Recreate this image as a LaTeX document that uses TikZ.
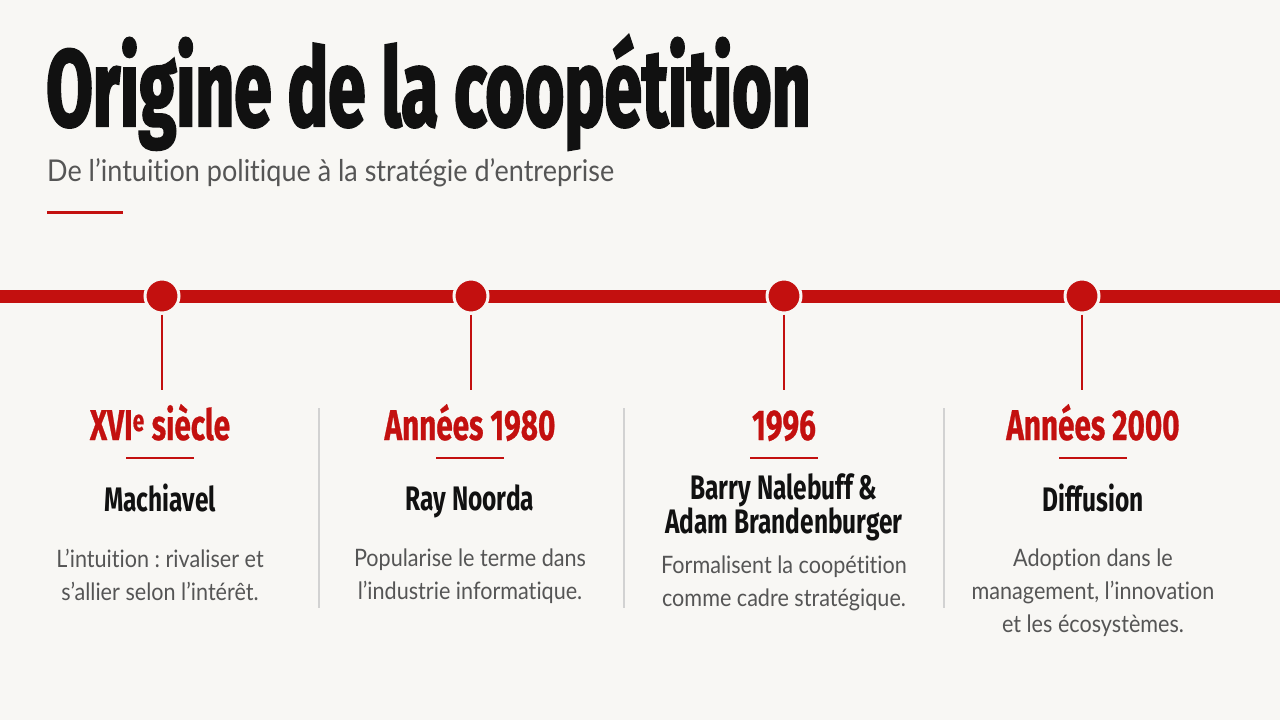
\documentclass[tikz,border=0pt]{standalone}
\usepackage{fontspec}
\setmainfont{Lato}
\newfontfamily\titlefont{Fira Sans}[FakeStretch=0.62, FakeBold=2]
\newfontfamily\yearfont{Fira Sans}[FakeStretch=0.69, FakeBold=0.6]
\newfontfamily\condfont{Fira Sans}[FakeStretch=0.72]
\newfontfamily\descfont{Lato}[FakeStretch=0.9, Ligatures=NoCommon]
\frenchspacing

\definecolor{paper}{HTML}{F8F7F4}
\definecolor{tlred}{HTML}{C3100F}
\definecolor{ink}{HTML}{111111}
\definecolor{muted}{HTML}{555555}
\definecolor{sepgray}{HTML}{D2D2D2}

\tikzset{
  dot/.style={circle, fill=tlred, draw=paper, line width=3pt, minimum size=34pt, inner sep=0pt},
  stem/.style={draw=tlred, line width=2pt},
  yearlbl/.style={text=tlred, font=\yearfont\bfseries\fontsize{43}{43}\selectfont, inner sep=0pt, anchor=base},
  who/.style={text=ink, font=\condfont\bfseries\fontsize{34}{32}\selectfont, align=center, inner sep=0pt, anchor=north},
  desc/.style={text=muted, font=\descfont\fontsize{24}{33}\selectfont, align=center, inner sep=0pt, anchor=north}
}

\begin{document}
\begin{tikzpicture}[x=1pt, y=-1pt]
    \useasboundingbox (0,0) rectangle (1280,720);
    \fill[paper] (0,0) rectangle (1280,720);
    % title block
    \node[anchor=base west, inner sep=0pt, text=ink, font=\titlefont\bfseries\fontsize{109}{109}\selectfont] (title) at (46,126) {Origine de la coopétition};
    \node[anchor=base west, inner sep=0pt, text=muted, font=\descfont\fontsize{30}{30}\selectfont] (subtitle) at (47,181) {De l’intuition politique à la stratégie d’entreprise};
    \draw[tlred, line width=3pt] (47,212) -- (123,212);
    % timeline
    \coordinate (tl-w) at (0,296);
    \coordinate (tl-e) at (1280,296);
    \draw[tlred, line width=13pt] (tl-w) -- (tl-e);
    % separators
    \foreach \sx in {319,624,944}
        \draw[sepgray, line width=1.2pt] (\sx,408) -- (\sx,608);
    % milestones
    \foreach \i/\x/\cx/\yr/\whoy/\who/\txty/\txt in {
        1/162/160/{XVI\textsuperscript{e} siècle}/484/{Machiavel}/549/{L’intuition : rivaliser et\\s’allier selon l’intérêt.},
        2/471/470/{Années 1980}/484/{Ray Noorda}/549/{Popularise le terme dans\\l’industrie informatique.},
        3/784/784/{1996}/473/{Barry Nalebuff \&\\Adam Brandenburger}/556/{Formalisent la coopétition\\comme cadre stratégique.},
        4/1082/1093/{Années 2000}/484/{Diffusion}/549/{Adoption dans le\\management, l’innovation\\et les écosystèmes.}}
    {
        \node[dot] (dot\i) at (\x,296) {};
        \coordinate (stem\i) at (\x,390);
        \draw[stem] (dot\i.south) -- (stem\i);
        \node[yearlbl] (year\i) at (\cx,440) {\yr};
        \draw[tlred, line width=2pt] (\cx-34,458) -- (\cx+34,458);
        \node[who] (who\i) at (\cx,\whoy) {\who};
        \node[desc] (desc\i) at (\cx,\txty) {\txt};
    }
\end{tikzpicture}
\end{document}
